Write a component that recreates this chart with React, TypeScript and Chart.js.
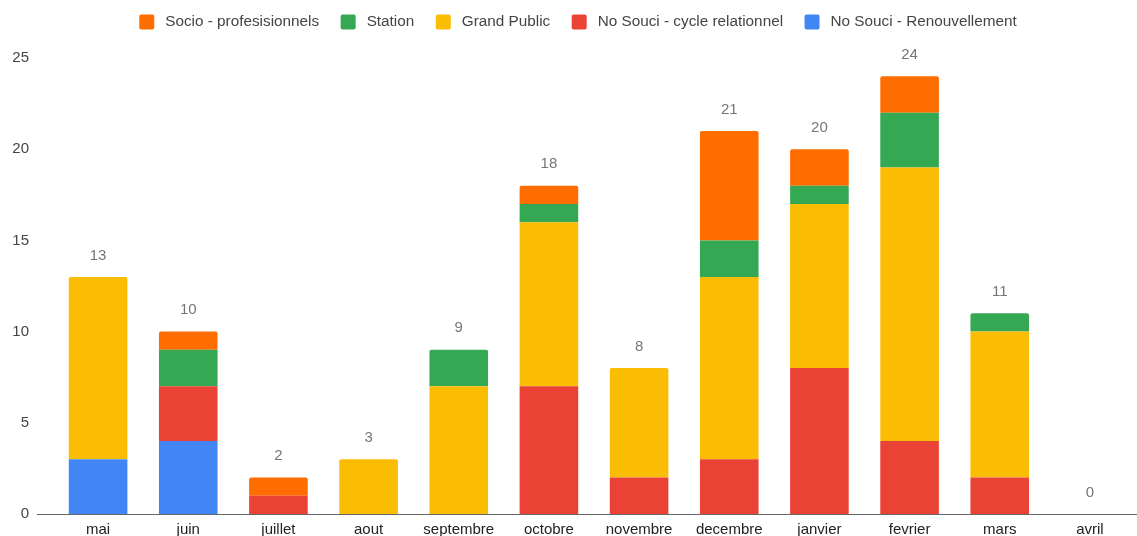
import React, { useEffect, useRef } from "react";
import { Chart, registerables } from "chart.js";

Chart.register(...registerables);

// Monthly counts per source, stacked from the bottom up
const months = [
  "mai", "juin", "juillet", "aout", "septembre", "octobre",
  "novembre", "decembre", "janvier", "fevrier", "mars", "avril",
];
const renouvellement = [3, 4, 0, 0, 0, 0, 0, 0, 0, 0, 0, 0];
const cycleRelationnel = [0, 3, 1, 0, 0, 7, 2, 3, 8, 4, 2, 0];
const grandPublic = [10, 0, 0, 3, 7, 9, 6, 10, 9, 15, 8, 0];
const station = [0, 2, 0, 0, 2, 1, 0, 2, 1, 3, 1, 0];
const socioPro = [0, 1, 1, 0, 0, 1, 0, 6, 2, 2, 0, 0];

const seriesNames = [
  "No Souci - Renouvellement",
  "No Souci - cycle relationnel",
  "Grand Public",
  "Station",
  "Socio - profesisionnels",
];
const seriesColors = ["#4285F4", "#EA4335", "#FBBC04", "#34A853", "#FF6D01"];
const seriesValues = [renouvellement, cycleRelationnel, grandPublic, station, socioPro];

const yTicks = [0, 5, 10, 15, 20, 25];

const FONT = "'Liberation Sans', Arial, sans-serif";

// Gray baseline under the bars, running a bit past the plot on the left
const baselinePlugin = {
  id: "baseline",
  afterDatasetsDraw(chart: any) {
    const { ctx, scales } = chart;
    const y = Math.round(scales.y.getPixelForValue(0)) + 0.5;
    ctx.save();
    ctx.strokeStyle = "#666666";
    ctx.lineWidth = 1;
    ctx.beginPath();
    ctx.moveTo(37, y);
    ctx.lineTo(chart.width, y);
    ctx.stroke();
    ctx.restore();
  },
};

// Stack totals above each column
const totalsPlugin = {
  id: "totals",
  afterDatasetsDraw(chart: any) {
    const { ctx, scales } = chart;
    ctx.save();
    ctx.font = `15px ${FONT}`;
    ctx.fillStyle = "#757575";
    ctx.textAlign = "center";
    ctx.textBaseline = "middle";
    chart.data.labels.forEach((_: string, i: number) => {
      let sum = 0;
      chart.data.datasets.forEach((ds: any) => {
        sum += ds.data[i] || 0;
      });
      const x = scales.x.getPixelForValue(i);
      const y = scales.y.getPixelForValue(sum);
      ctx.fillText(String(sum), x, y - 21.5);
    });
    ctx.restore();
  },
};

// Legend row across the top, listed from the top series down
const legendPlugin = {
  id: "topLegend",
  afterDraw(chart: any) {
    const { ctx } = chart;
    const items = chart.data.datasets
      .map((ds: any) => ({ label: ds.label as string, color: ds.backgroundColor as string }))
      .reverse();
    const box = 15;
    const textGap = 11;
    const itemGap = 21.5;
    ctx.save();
    ctx.font = `15.3px ${FONT}`;
    const widths = items.map((it: any) => box + textGap + ctx.measureText(it.label).width);
    const total = widths.reduce((a: number, b: number) => a + b, 0) + itemGap * (items.length - 1);
    let x = 578 - total / 2;
    const cy = 22;
    items.forEach((it: any, i: number) => {
      ctx.fillStyle = it.color;
      ctx.beginPath();
      if ((ctx as any).roundRect) {
        (ctx as any).roundRect(x, cy - box / 2, box, box, 2);
      } else {
        ctx.rect(x, cy - box / 2, box, box);
      }
      ctx.fill();
      ctx.fillStyle = "#444444";
      ctx.textAlign = "left";
      ctx.textBaseline = "middle";
      ctx.fillText(it.label, x + box + textGap, cy);
      x += widths[i] + itemGap;
    });
    ctx.restore();
  },
};

export default function App() {
  const canvasRef = useRef<HTMLCanvasElement | null>(null);

  useEffect(() => {
    document.body.style.margin = "0";
    const canvas = canvasRef.current;
    if (!canvas) return;

    const chart = new Chart(canvas, {
      type: "bar",
      data: {
        labels: months,
        datasets: seriesNames.map((name, i) => ({
          label: name,
          data: seriesValues[i],
          backgroundColor: seriesColors[i],
          borderWidth: 0,
          borderRadius: 2,
          barPercentage: 0.65,
          categoryPercentage: 1,
        })),
      },
      options: {
        responsive: false,
        animation: false,
        devicePixelRatio: 1,
        layout: { padding: { top: 58, right: 2, left: 0, bottom: 0 } },
        plugins: {
          legend: { display: false },
          tooltip: { enabled: false },
        },
        scales: {
          x: {
            stacked: true,
            grid: { display: false, drawTicks: false },
            border: { display: false },
            afterFit: (scale: any) => {
              scale.height = 22;
            },
            ticks: {
              color: "#222222",
              font: { family: FONT, size: 15 },
              padding: 7,
              maxRotation: 0,
              autoSkip: false,
            },
          },
          y: {
            stacked: true,
            min: 0,
            max: 25,
            // tick marks are hidden with the grid; their length only spaces the labels
            grid: { display: false, drawTicks: true, tickLength: 21 },
            border: { display: false },
            afterBuildTicks: (scale: any) => {
              scale.ticks = yTicks.map((v) => ({ value: v }));
            },
            afterFit: (scale: any) => {
              scale.width = 53;
            },
            ticks: {
              color: "#444444",
              font: { family: FONT, size: 15 },
              padding: 3,
            },
          },
        },
      },
      plugins: [baselinePlugin, totalsPlugin, legendPlugin],
    });

    return () => chart.destroy();
  }, []);

  return (
    <div style={{ position: "relative", width: 1137, height: 536, background: "#ffffff" }}>
      <canvas ref={canvasRef} width={1137} height={536} />
    </div>
  );
}
